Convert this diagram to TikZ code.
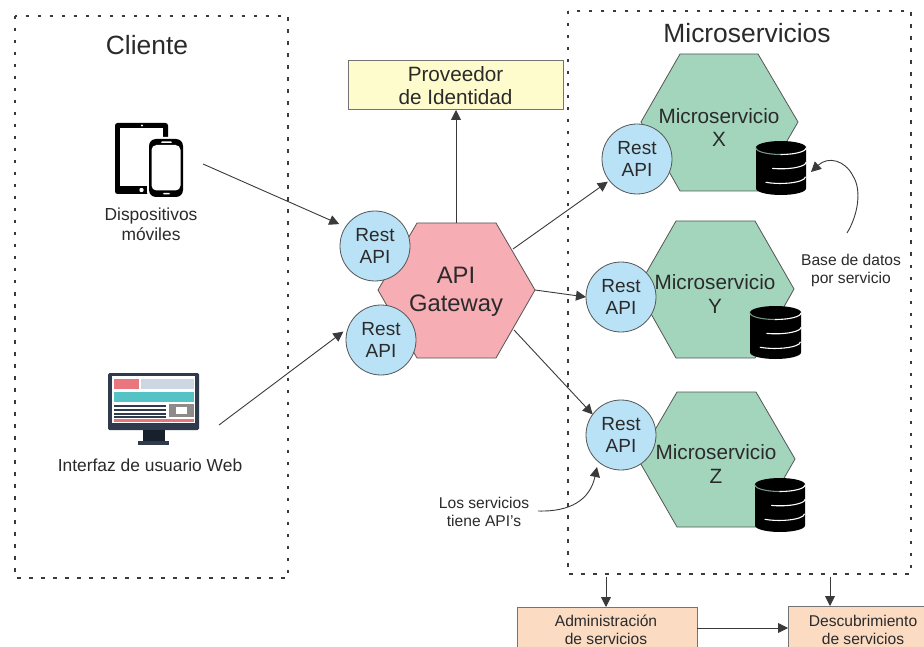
\documentclass[tikz,border=0pt]{standalone}
\usepackage{fontspec}
\setmainfont{Liberation Sans}
\usetikzlibrary{arrows.meta,calc}
\definecolor{inkc}{HTML}{2B2A2B}
\definecolor{linec}{HTML}{3A3A3A}
\definecolor{edgec}{HTML}{555555}
\definecolor{greenc}{HTML}{A3D5BD}
\definecolor{pinkc}{HTML}{F7ADB4}
\definecolor{bluec}{HTML}{B9E2F6}
\definecolor{yellowc}{HTML}{FEFBCC}
\definecolor{peachc}{HTML}{FBDCC3}
\definecolor{monc}{HTML}{2F3B4C}
\definecolor{mondark}{HTML}{18202E}
\definecolor{monred}{HTML}{E9757D}
\definecolor{monblue}{HTML}{CDD6E3}
\definecolor{monteal}{HTML}{55C3C5}
\definecolor{mongray}{HTML}{8E8A8A}
\tikzset{
  txt/.style={text=inkc,align=center,inner sep=0pt,outer sep=0pt},
  title/.style={txt,font=\fontsize{26.4}{30}\selectfont},
  small/.style={txt,font=\fontsize{15.6}{18}\selectfont},
  mid/.style={txt,font=\fontsize{17.4}{20}\selectfont},
  msname/.style={txt,font=\fontsize{20.7}{23.5}\selectfont},
  gwname/.style={txt,font=\fontsize{23.8}{28}\selectfont},
  restapi/.style={circle,draw=edgec,line width=0.8pt,fill=bluec,minimum size=70pt,inner sep=0pt,outer sep=0pt,
    text=inkc,align=center,font=\fontsize{19}{21}\selectfont},
  hexms/.style={fill=greenc,draw=edgec,line width=0.8pt,line join=round},
  hexgw/.style={fill=pinkc,draw=edgec,line width=0.8pt,line join=round},
  zone/.style={draw=linec,line width=1.5pt,dash pattern=on 3.5pt off 8.5pt},
  idbox/.style={rectangle,draw=gray!90!black,line width=1pt,fill=yellowc,text=inkc,align=center,inner sep=0pt,outer sep=0pt,
    minimum width=215pt,minimum height=49pt,font=\fontsize{20.7}{23}\selectfont},
  svcbox/.style={draw=gray!90!black,line width=1pt,fill=peachc},
  conn/.style={draw=linec,line width=0.9pt,-{Triangle[length=10pt,width=10pt]}},
  dbarc/.style={line width=1.1pt,line cap=round},
}
% \dbicon{left x}{top y}{width}{height}
\newcommand{\dbicon}[4]{%
  \fill[black] (#1,#2+6.5) arc[start angle=180,end angle=0,x radius=#3/2*1pt,y radius=6.5pt]
     -- (#1+#3,#2+#4-6.5) arc[start angle=360,end angle=180,x radius=#3/2*1pt,y radius=6.5pt] -- cycle;
  \draw[dbarc,greenc!70!black] (#1,#2+7) arc[start angle=180,end angle=270,x radius=#3/2*1pt,y radius=6.5pt];
  \draw[dbarc,white] (#1+#3/2,#2+13.5) arc[start angle=270,end angle=360,x radius=#3/2*1pt,y radius=6.5pt];
  \draw[dbarc,white] (#1+#3*.33,#2+27.4) arc[start angle=250,end angle=360,x radius=#3/2*1pt,y radius=6.5pt];
  \draw[dbarc,white] (#1+#3*.2,#2+41.3) arc[start angle=235,end angle=360,x radius=#3/2*1pt,y radius=6.5pt];
}
\begin{document}
\begin{tikzpicture}[x=1pt,y=-1pt]
\useasboundingbox (0,0) rectangle (924,647);
\clip (0,0) rectangle (924,647);
\fill[white] (0,0) rectangle (924,647);

% zones
\draw[zone] (15,16) rectangle (288,578);
\draw[zone] (568,11) rectangle (911,574);
\node[title] (tcli) at (147,45) {Cliente};
\node[title] (tmic) at (747,33) {Microservicios};

% identity provider
\node[idbox] (idp) at (455.5,85.5) {Proveedor\\de Identidad};

% service boxes
\fill[svcbox] (517,607) rectangle (697,660);
\fill[svcbox] (788,606) rectangle (940,660);
\draw[svcbox] (517,607) rectangle (697,660);
\draw[svcbox] (788,606) rectangle (940,660);
\coordinate (admN) at (606,607);
\coordinate (admE) at (697,628);
\coordinate (desN) at (830,606);
\coordinate (desW) at (788,628);
\node[small] (adm) at (606,630) {Administración\\de servicios};
\node[small] (des) at (863,630) {Descubrimiento\\de servicios};

% hexagons
\draw[hexms] (680,54) -- (758,54) -- (798,122) -- (758,191) -- (680,191) -- (641,122) -- cycle;
\draw[hexms] (676,221) -- (755,221) -- (794,289) -- (755,358) -- (676,358) -- (637,289) -- cycle;
\draw[hexms] (677,392) -- (756,392) -- (795,459) -- (756,527) -- (677,527) -- (638,459) -- cycle;
\draw[hexgw] (417,223) -- (496,223) -- (535,290) -- (496,358) -- (417,358) -- (378,290) -- cycle;
\coordinate (gwN) at (456,223);
\coordinate (gwNE) at (513,249);
\coordinate (gwE) at (535,290);
\coordinate (gwSE) at (514,330);

\node[msname] (msx) at (719,127.5) {Microservicio\\X};
\node[msname] (msy) at (715,294) {Microservicio\\Y};
\node[msname] (msz) at (716,464) {Microservicio\\Z};
\node[gwname] (gw) at (456,291.5) {API\\Gateway};

% rest circles
\node[restapi] (r1) at (375,246) {Rest\\[0.5pt]API};
\node[restapi] (r2) at (381,340) {Rest\\[0.5pt]API};
\node[restapi] (rx) at (637,159) {Rest\\[0.5pt]API};
\node[restapi] (ry) at (621,297) {Rest\\[0.5pt]API};
\node[restapi] (rz) at (621,435) {Rest\\[0.5pt]API};

% databases
\dbicon{756}{141}{50}{54}
\dbicon{750}{306}{51}{53}
\dbicon{755}{478}{50}{54}
\coordinate (dbx) at (811,172);

% tablet + phone
\fill[black,rounded corners=2.5pt] (115,123) rectangle (168,194);
\fill[white] (120,128) rectangle (163,186);
\fill[white] (142,125.5) circle (1.1);
\fill[white] (141.5,190) circle (2.2);
\fill[white,rounded corners=7pt] (147,137) rectangle (185,199);
\fill[black,rounded corners=7pt] (149,139) rectangle (183,197);
\fill[white,rounded corners=5pt] (151.5,145) rectangle (180.5,190.5);
\fill[white,rounded corners=0.8pt] (161,141.5) rectangle (172,143);
\fill[white,rounded corners=0.8pt] (163,193) rectangle (170,194.5);
\coordinate (devout) at (203,164);
\node[mid] (dev) at (151,224) {Dispositivos\\móviles};

% monitor
\fill[monc,rounded corners=1.5pt] (108,373) rectangle (199,430);
\fill[white] (112,376) rectangle (195,423);
\fill[monred] (114,379) rectangle (139,389);
\fill[monblue] (141,379) rectangle (194,389);
\fill[monteal] (114,392) rectangle (194,402);
\foreach \yy in {405.5,409.5,413.5,416.5}{\fill[monc] (114,\yy-1) rectangle (166,\yy+1);}
\fill[mongray] (169,404) rectangle (194,417);
\fill[white] (176,407) rectangle (187,414);
\fill[monred] (114,418.5) rectangle (194,422);
\fill[mondark] (143,430) rectangle (165,441);
\fill[monc] (138,441) rectangle (169,445);
\coordinate (webout) at (219,425);
\node[mid] (web) at (150,465) {Interfaz de usuario Web};

% connectors
\draw[conn,shorten >=7pt] (devout) -- (r1.147);
\draw[conn,shorten >=6pt] (webout) -- (r2.160);
\draw[conn] (gwN) -- (gwN |- idp.south);
\draw[conn,shorten >=2pt] (gwNE) -- (rx.218);
\draw[conn] (gwE) -- (ry.west);
\draw[conn] (gwSE) -- (rz.144);

% notes
\node[small] (nbd) at (851,270) {Base de datos\\por servicio};
\coordinate (nbdT) at (847,233);
\draw[conn] (nbdT) .. controls (858,215) and (862,190) .. (853,176) .. controls (845,160) and (828,156) .. (dbx);
\node[small] (napi) at (484,512) {Los servicios\\tiene API’s};
\coordinate (napiE) at (538,511);
\draw[conn] (napiE) .. controls (570,512) and (590,500) .. (597,467);

% management arrows
\coordinate (z1) at (606,577);
\coordinate (z2) at (830,577);
\draw[conn] (z1) -- (admN);
\draw[conn] (z2) -- (desN);
\draw[conn] (admE) -- (desW);
\end{tikzpicture}
\end{document}
